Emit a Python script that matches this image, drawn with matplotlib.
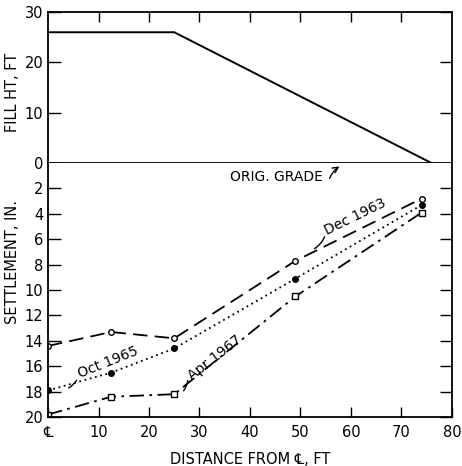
import matplotlib.pyplot as plt

# fill profile
fill_x = [0, 25, 76]
fill_ht = [26, 26, 0]

# settlement readings
dist = [0, 12.5, 25, 49, 74]
dec_1963 = [14.4, 13.3, 13.8, 7.7, 2.8]
oct_1965 = [17.9, 16.5, 14.6, 9.1, 3.3]
apr_1967 = [19.8, 18.4, 18.2, 10.5, 3.9]

x_ticks = [0, 10, 20, 30, 40, 50, 60, 70, 80]
x_labels = ['\u2104', '10', '20', '30', '40', '50', '60', '70', '80']

plt.rcParams['font.family'] = ['DejaVu Sans']
plt.rcParams['font.size'] = 10

fig = plt.figure(figsize=(4.62, 4.66), dpi=100)
ax1 = fig.add_axes([0.104, 0.650, 0.874, 0.324])
ax2 = fig.add_axes([0.104, 0.105, 0.874, 0.545])

# upper panel
ax1.plot(fill_x, fill_ht, color='black', lw=1.4)
ax1.set_xlim(0, 80)
ax1.set_ylim(0, 30)
ax1.set_yticks([0, 10, 20, 30])
ax1.set_xticks([10, 20, 30, 40, 50, 60, 70])
ax1.tick_params(axis='x', direction='in', top=True, bottom=False,
                labelbottom=False, length=7, width=1)
ax1.tick_params(axis='y', direction='in', left=True, right=True,
                length=9, width=1, labelsize=10.5)
ax1.set_ylabel('FILL HT, FT', fontsize=10.5)
ax1.yaxis.set_label_coords(-0.07, 0.47)
for s in ax1.spines.values():
    s.set_linewidth(1.3)

# lower panel
ax2.plot(dist, dec_1963, color='black', lw=1.3, dashes=(8, 4),
         marker='o', ms=4, mfc='white', mec='black')
ax2.plot(dist, oct_1965, color='black', lw=1.3, dashes=(1, 2),
         marker='o', ms=4, mfc='black', mec='black')
ax2.plot(dist, apr_1967, color='black', lw=1.3, dashes=(8, 3, 1.5, 3),
         marker='s', ms=4.5, mfc='white', mec='black')
ax2.set_xlim(0, 80)
ax2.set_ylim(20, 0)
ax2.set_yticks([2, 4, 6, 8, 10, 12, 14, 16, 18, 20])
ax2.set_xticks(x_ticks)
ax2.set_xticklabels(x_labels)
ax2.tick_params(axis='x', direction='in', top=False, bottom=True,
                length=7, width=1, labelsize=10.5, pad=6)
ax2.tick_params(axis='y', direction='in', left=True, right=True,
                length=9, width=1, labelsize=10.5)
ax2.set_ylabel('SETTLEMENT, IN.', fontsize=10.5)
ax2.yaxis.set_label_coords(-0.07, 0.61)
ax2.set_xlabel('DISTANCE FROM \u2104, FT', fontsize=10.5, labelpad=8)
for s in ax2.spines.values():
    s.set_linewidth(1.3)
ax2.spines['top'].set_visible(False)

# annotations
ax2.annotate('', xy=(58.2, 0.15), xytext=(55.6, 1.4),
             arrowprops=dict(arrowstyle='->', lw=1, color='black',
                             connectionstyle='arc3,rad=-0.2'))
ax2.text(45.2, 1.1, 'ORIG. GRADE', ha='center', va='center', fontsize=10)

ax2.text(60.8, 4.2, 'Dec 1963', ha='center', va='center', rotation=26, fontsize=10)
ax2.annotate('', xy=(52.3, 6.85), xytext=(55.0, 5.6),
             arrowprops=dict(arrowstyle='-', lw=1, color='black',
                             connectionstyle='arc3,rad=-0.2'))

ax2.text(11.9, 15.7, 'Oct 1965', ha='center', va='center', rotation=22, fontsize=10)
ax2.annotate('', xy=(3.6, 17.8), xytext=(5.9, 16.9),
             arrowprops=dict(arrowstyle='-', lw=1, color='black',
                             connectionstyle='arc3,rad=-0.2'))

ax2.text(33.1, 15.3, 'Apr 1967', ha='center', va='center', rotation=38, fontsize=10)
ax2.annotate('', xy=(26.5, 18.1), xytext=(27.7, 16.9),
             arrowprops=dict(arrowstyle='-', lw=1, color='black',
                             connectionstyle='arc3,rad=-0.2'))

fig.savefig('out.png', dpi=100)
